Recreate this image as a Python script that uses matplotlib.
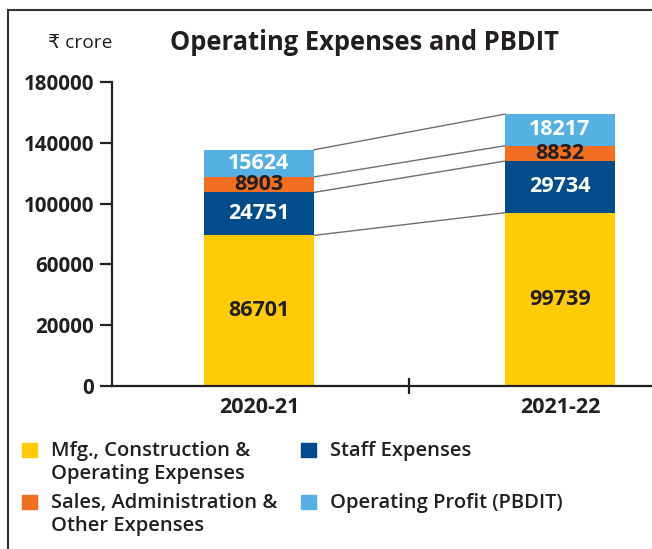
import matplotlib
matplotlib.use("Agg")
import matplotlib.pyplot as plt
import numpy as np
from matplotlib.lines import Line2D
from matplotlib.patches import Rectangle

# data
years = ["2020-21", "2021-22"]
mfg = [86701, 99739]
staff = [24751, 29734]
sales = [8903, 8832]
pbdit = [15624, 18217]
series = [mfg, staff, sales, pbdit]
colors = ["#FFCB05", "#034C8C", "#F26F21", "#56B0E3"]
text_colors = ["#231F20", "white", "#231F20", "white"]
legend_labels = [
    "Mfg., Construction &\nOperating Expenses",
    "Staff Expenses",
    "Sales, Administration &\nOther Expenses",
    "Operating Profit (PBDIT)",
]
ytick_labels = ["0", "20000", "60000", "100000", "140000", "180000"]

dark = "#231F20"
plt.rcParams["font.family"] = ["Open Sans", "DejaVu Sans"]

W, H = 652, 549
fig = plt.figure(figsize=(W / 100, H / 100), dpi=100)


def fx(px):
    return px / W


def fy(py):
    return 1 - py / H


ax = fig.add_axes([fx(112), fy(386), fx(652) - fx(112), fy(82) - fy(386)])

x = np.arange(len(years))
width = 0.365
ymax = 175000  # the printed scale is a bit stretched compared with its labels
bottom = np.zeros(len(years))
tops = []
for vals, c, tc in zip(series, colors, text_colors):
    vals = np.array(vals, dtype=float)
    ax.bar(x, vals, width, bottom=bottom, color=c, zorder=2)
    for xi, b, v in zip(x, bottom, vals):
        ax.text(xi, b + v / 2, f"{int(v)}", ha="center", va="center",
                color=tc, fontsize=15.5, fontweight="bold", zorder=3)
    bottom = bottom + vals
    tops.append(bottom.copy())

# connector lines between bar segment tops
for t in tops:
    ax.plot([x[0] + width / 2, x[1] - width / 2], [t[0], t[1]],
            color="#6D6E71", lw=1.0, zorder=1)

ax.set_xlim(-0.488, -0.488 + 540 / 301)
ax.set_ylim(0, ymax)
for s in ["top", "right"]:
    ax.spines[s].set_visible(False)
for s in ["left", "bottom"]:
    ax.spines[s].set_linewidth(1.6)
    ax.spines[s].set_color(dark)

ax.set_yticks(np.linspace(0, ymax, len(ytick_labels)))
ax.set_yticklabels(ytick_labels, fontsize=14.8, fontweight="bold", color=dark)
ax.tick_params(axis="y", length=9, width=1.6, color=dark, pad=4)

ax.set_xticks([0.5])
ax.set_xticklabels([""])
ax.tick_params(axis="x", direction="inout", length=12, width=1.6, color=dark)
for xi, lab in zip(x, years):
    ax.text(xi, -0.07, lab, transform=ax.get_xaxis_transform(), ha="center",
            va="center", fontsize=15.5, fontweight="bold", color=dark)

# title and unit
fig.text(fx(364), fy(42), "Operating Expenses and PBDIT", ha="center",
         va="center", fontsize=18.4, fontweight="bold", color=dark)
fig.text(fx(48), fy(43), "₹ crore", ha="left", va="center", fontsize=13.8,
         color=dark)

# legend
leg_pos = [(22, 443), (301, 443), (22, 495), (301, 495)]
for (lx, ly), lab, c in zip(leg_pos, legend_labels, colors):
    fig.add_artist(Rectangle((fx(lx), fy(ly + 14)), fx(15), fy(0) - fy(14),
                             transform=fig.transFigure, color=c))
    fig.text(fx(lx + 29), fy(ly - 2), lab, ha="left", va="top", fontsize=14.5,
             color=dark, linespacing=1.2, fontweight="semibold")

# outer frame (top and left edges)
fig.add_artist(Line2D([fx(8), 1], [fy(10), fy(10)], transform=fig.transFigure,
                      color="#333333", lw=1.5))
fig.add_artist(Line2D([fx(8), fx(8)], [fy(10), 0], transform=fig.transFigure,
                      color="#333333", lw=1.5))

fig.savefig("out.png", dpi=100)
